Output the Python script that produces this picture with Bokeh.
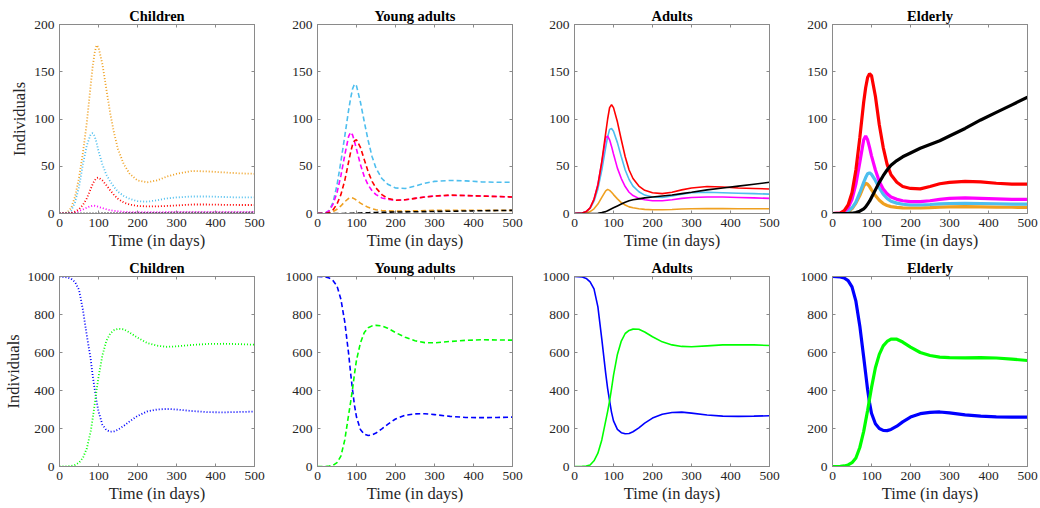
from bokeh.plotting import figure
from bokeh.layouts import column, row
from bokeh.models import Range1d, LinearAxis, FixedTicker
from bokeh.embed import file_html
from bokeh.resources import INLINE

# ---------------- data ----------------
days = [0, 20, 30, 40, 50, 60, 70, 80, 85, 90, 95, 100, 110, 120, 130, 140, 150,
        165, 180, 200, 225, 250, 275, 300, 340, 380, 420, 460, 500]

group_titles = ["Children", "Young adults", "Adults", "Elderly"]
x_ticks = [0, 100, 200, 300, 400, 500]
top_y_ticks = [0, 50, 100, 150, 200]
bottom_y_ticks = [0, 200, 400, 600, 800, 1000]

# Children - compartments
children_orange = [0, 1, 6, 18, 38, 64, 96, 136, 155, 170, 178, 176, 158, 132, 106, 85, 68, 52, 42, 35,
                   33, 35, 39, 42, 45, 44.5, 43.5, 42.5, 42]
children_cyan = [0, 0.5, 3, 12, 28, 52, 72, 84, 85, 82, 75, 66, 52, 41, 34, 28, 23, 18.5, 15.5, 13,
                 12.5, 14, 16, 17, 18, 18, 17.5, 17, 17]
children_magenta = [0, 0, 0.5, 1.2, 2.5, 4.2, 6.2, 7.8, 8.3, 8.2, 7.7, 7, 5.7, 4.5, 3.5, 2.8, 2.3, 1.8, 1.5, 1.3,
                    1.3, 1.4, 1.6, 1.7, 1.8, 1.8, 1.8, 1.8, 1.7]
children_red = [0, 0, 0.5, 2, 4.5, 9, 16, 26, 31, 35, 37.5, 38, 35, 30, 24.5, 19.5, 15.5, 11.5, 9.5, 8,
                7.5, 7.5, 8, 8.5, 9.5, 9.5, 9.2, 9, 9]
children_black = [0, 0, 0, 0, 0, 0, 0.05, 0.1, 0.1, 0.15, 0.15, 0.2, 0.25, 0.3, 0.35, 0.4, 0.45, 0.5, 0.55, 0.6,
                  0.65, 0.7, 0.75, 0.8, 0.85, 0.9, 0.95, 1.0, 1.05]

# Young adults - compartments
young_orange = [0, 0, 0.5, 2, 4.5, 8, 12.5, 16, 17, 16.5, 15.5, 14, 11, 8.5, 6.5, 5, 4, 3.2, 2.8, 2.5,
                2.5, 2.8, 3.1, 3.4, 3.5, 3.5, 3.4, 3.3, 3.3]
young_cyan = [0, 0.5, 3, 12, 30, 55, 82, 110, 122, 132, 137, 135, 118, 97, 77, 60, 48, 37, 31, 27,
              26.5, 29, 32, 34, 35, 34.5, 33.5, 33, 33]
young_magenta = [0, 0.5, 3, 10, 22, 40, 62, 82, 86, 83, 76, 68, 52, 39, 30, 24, 20, 16.5, 15, 14,
                 14.5, 16, 17.5, 18.5, 19, 19, 18.5, 18, 17.5]
young_red = [0, 0, 1, 4, 10, 20, 35, 55, 65, 73, 77, 78, 70, 57, 44, 34, 27, 20, 16, 14,
             14.5, 16, 17.5, 18.5, 19.5, 19, 18.5, 18, 17.5]
young_black = [0, 0, 0, 0, 0, 0.05, 0.1, 0.2, 0.25, 0.3, 0.35, 0.4, 0.55, 0.7, 0.85, 1.0, 1.1, 1.25, 1.4, 1.55,
               1.7, 1.85, 2.0, 2.15, 2.4, 2.65, 2.9, 3.1, 3.3]

# Adults - compartments
adults_orange = [0, 0, 0.5, 2, 5, 10, 17, 24, 25.5, 24.5, 22.5, 20, 15.5, 11.5, 9, 7, 6, 5, 4.4, 4,
                 4, 4.3, 4.7, 5, 5.2, 5.2, 5.1, 5, 5]
adults_cyan = [0, 0.5, 2, 5.5, 13, 26, 46, 70, 81, 89, 90, 87, 75, 60, 46, 36, 29, 23, 19.5, 17.5,
               17, 18.5, 20.5, 22, 22.5, 22, 21.5, 21, 20.5]
adults_magenta = [0, 0.5, 2, 6, 15, 31, 54, 80, 82, 78, 71, 63, 48, 37, 28.5, 22.5, 19, 16, 14.5, 13.5,
                  13.5, 14.5, 16, 17, 17.5, 17.5, 17, 16.5, 16]
adults_red = [0, 0.5, 2, 6, 15, 30, 55, 85, 100, 112, 115, 112, 97, 78, 60, 46, 37, 29, 24.5, 22,
              21, 22.5, 25, 27, 28.5, 28, 27, 26.5, 26]
adults_black = [0, 0, 0, 0, 0, 0.3, 1, 2, 3, 4, 5, 6, 8, 10, 12, 13.5, 14.5, 15.5, 16.5, 17.5,
                18.5, 19.5, 21, 22.5, 25, 27, 29, 31, 33]

# Elderly - compartments
elderly_orange = [0, 0, 0.5, 2, 5, 11, 19, 29, 32, 31, 28.5, 25, 19, 14, 10.5, 8.5, 7.3, 6.5, 6, 5.8,
                  5.8, 6.2, 6.7, 7, 7.2, 7, 6.8, 6.6, 6.5]
elderly_cyan = [0, 0, 1, 2.5, 6, 12, 22, 33, 38, 42, 43, 41.5, 35, 27, 20.5, 16, 13, 11, 9.8, 9,
                9, 9.5, 10.2, 10.6, 10.8, 10.6, 10.3, 10, 10]
elderly_magenta = [0, 0.5, 2, 6, 15, 31, 54, 78, 82, 78, 70, 61, 46, 34, 26, 21, 17.5, 15, 13.5, 12.5,
                   12.5, 13.5, 15, 16, 16.5, 16, 15.5, 15, 15]
elderly_red = [0, 0.5, 3, 9, 22, 46, 80, 118, 133, 144, 148, 146, 124, 94, 70, 52, 41, 33, 28.5, 26.5,
               26, 28.5, 31.5, 33, 34, 33.5, 32, 31, 31]
elderly_black = [0, 0, 0, 0, 0.3, 1, 2.5, 5, 7, 10, 13, 17, 25, 33, 40, 46, 51, 56, 60, 64,
                 69, 73, 77, 82, 90, 99, 107, 115, 123]

# Susceptible (blue) and recovered (green)
children_blue = [1000, 995, 988, 970, 930, 825, 690, 565, 480, 410, 345, 290, 220, 192, 183, 185, 194, 214, 238, 266,
                 290, 300, 303, 300, 292, 286, 285, 287, 289]
children_green = [0, 1, 3, 8, 20, 45, 95, 185, 250, 325, 400, 470, 585, 660, 700, 718, 725, 722, 705, 678,
                  650, 636, 630, 632, 640, 645, 646, 644, 641]
young_blue = [1000, 998, 992, 978, 950, 880, 760, 590, 490, 400, 320, 260, 195, 170, 163, 166, 176, 198, 222, 250,
              270, 277, 278, 273, 264, 258, 257, 258, 260]
young_green = [0, 0, 2, 6, 20, 55, 140, 275, 340, 410, 490, 560, 650, 705, 730, 740, 743, 740, 728, 705,
               680, 662, 652, 651, 658, 664, 667, 666, 665]
adults_blue = [1000, 997, 990, 972, 935, 840, 670, 490, 410, 345, 285, 240, 195, 178, 172, 174, 183, 203, 228, 255,
               275, 284, 286, 281, 271, 265, 264, 265, 267]
adults_green = [0, 1, 3, 8, 30, 70, 140, 240, 290, 345, 410, 480, 590, 660, 700, 716, 723, 722, 708, 683,
                656, 640, 632, 630, 635, 640, 641, 640, 637]
elderly_blue = [1000, 998, 992, 978, 945, 870, 740, 575, 490, 405, 335, 280, 225, 200, 190, 189, 195, 212, 235, 260,
                278, 285, 287, 282, 272, 265, 261, 260, 260]
elderly_green = [0, 1, 3, 8, 20, 45, 100, 185, 240, 295, 355, 415, 520, 590, 635, 658, 670, 670, 655, 628,
                 600, 584, 576, 573, 572, 573, 571, 565, 558]

# ---------------- styling ----------------
FONT = "Liberation Serif"
AX_COLOR = "#8a8a8a"
TXT_COLOR = "#262626"
C_ORANGE = "#EFA020"
C_CYAN = "#4DBEEE"
C_MAGENTA = "#FF00FF"
C_RED = "#FF0000"
C_BLACK = "#000000"
C_BLUE = "#0000FF"
C_GREEN = "#00FF00"

top_series = [
    [(children_orange, C_ORANGE), (children_cyan, C_CYAN), (children_magenta, C_MAGENTA),
     (children_red, C_RED), (children_black, C_BLACK)],
    [(young_orange, C_ORANGE), (young_cyan, C_CYAN), (young_magenta, C_MAGENTA),
     (young_red, C_RED), (young_black, C_BLACK)],
    [(adults_orange, C_ORANGE), (adults_cyan, C_CYAN), (adults_magenta, C_MAGENTA),
     (adults_red, C_RED), (adults_black, C_BLACK)],
    [(elderly_orange, C_ORANGE), (elderly_cyan, C_CYAN), (elderly_magenta, C_MAGENTA),
     (elderly_red, C_RED), (elderly_black, C_BLACK)],
]
bottom_series = [
    [(children_blue, C_BLUE), (children_green, C_GREEN)],
    [(young_blue, C_BLUE), (young_green, C_GREEN)],
    [(adults_blue, C_BLUE), (adults_green, C_GREEN)],
    [(elderly_blue, C_BLUE), (elderly_green, C_GREEN)],
]
line_styles = [("1 2", 1.8), ("5 3", 1.6), ("solid", 1.6), ("solid", 3.2)]

# per column: (figure width, left border)
col_geom = [(266, 59), (258, 51), (258, 50), (258, 50)]
FRAME_W = 195


def style_axis(ax, ticks, labels=True, standoff=5, label_standoff=1):
    ax.ticker = FixedTicker(ticks=ticks)
    ax.major_tick_in = 3
    ax.major_tick_out = 0
    ax.minor_tick_line_color = None
    ax.axis_line_color = AX_COLOR
    ax.major_tick_line_color = AX_COLOR
    ax.major_label_text_font = FONT
    if labels:
        ax.major_label_text_color = TXT_COLOR
        ax.major_label_text_font_size = "13.5px"
        ax.major_label_standoff = standoff
    else:
        ax.major_label_text_color = None
        ax.major_label_text_font_size = "1px"
        ax.major_label_standoff = 0
    ax.axis_label_text_font = FONT
    ax.axis_label_text_font_style = "normal"
    ax.axis_label_text_font_size = "16.5px"
    ax.axis_label_text_color = TXT_COLOR
    ax.axis_label_standoff = label_standoff


def make_panel(col, rowi, series):
    width, left = col_geom[col]
    if rowi == 0:
        height, top, bottom = 252, 24, 39
        ymax, yticks = 200, top_y_ticks
    else:
        height, top, bottom = 254, 24, 40
        ymax, yticks = 1000, bottom_y_ticks
    p = figure(width=width, height=height, x_range=Range1d(0, 500), y_range=Range1d(0, ymax),
               output_backend="svg", toolbar_location=None,
               min_border_left=left, min_border_right=width - left - FRAME_W,
               min_border_top=top, min_border_bottom=bottom)
    p.grid.visible = False
    p.outline_line_color = AX_COLOR
    p.background_fill_color = "white"
    p.border_fill_color = "white"
    p.title.text = group_titles[col]
    p.title.align = "center"
    p.title.text_font = FONT
    p.title.text_font_size = "14.5px"
    p.title.text_font_style = "bold"
    p.title.text_color = "black"
    p.title.standoff = 2

    style_axis(p.xaxis[0], x_ticks, standoff=5, label_standoff=1)
    style_axis(p.yaxis[0], yticks, standoff=5, label_standoff=2)
    p.xaxis[0].axis_label = "Time (in days)"
    if col == 0:
        p.yaxis[0].axis_label = "Individuals"

    ax_top = LinearAxis()
    style_axis(ax_top, x_ticks, labels=False)
    p.add_layout(ax_top, "above")
    ax_right = LinearAxis()
    style_axis(ax_right, yticks, labels=False)
    p.add_layout(ax_right, "right")

    dash, lw = line_styles[col]
    for vals, color in series:
        p.line(days, vals, line_color=color, line_width=lw, line_dash=dash)
    return p


top_row = [make_panel(c, 0, top_series[c]) for c in range(4)]
bottom_row = [make_panel(c, 1, bottom_series[c]) for c in range(4)]
layout = column(row(*top_row), row(*bottom_row))

open("out.html", "w").write(file_html(layout, INLINE))
